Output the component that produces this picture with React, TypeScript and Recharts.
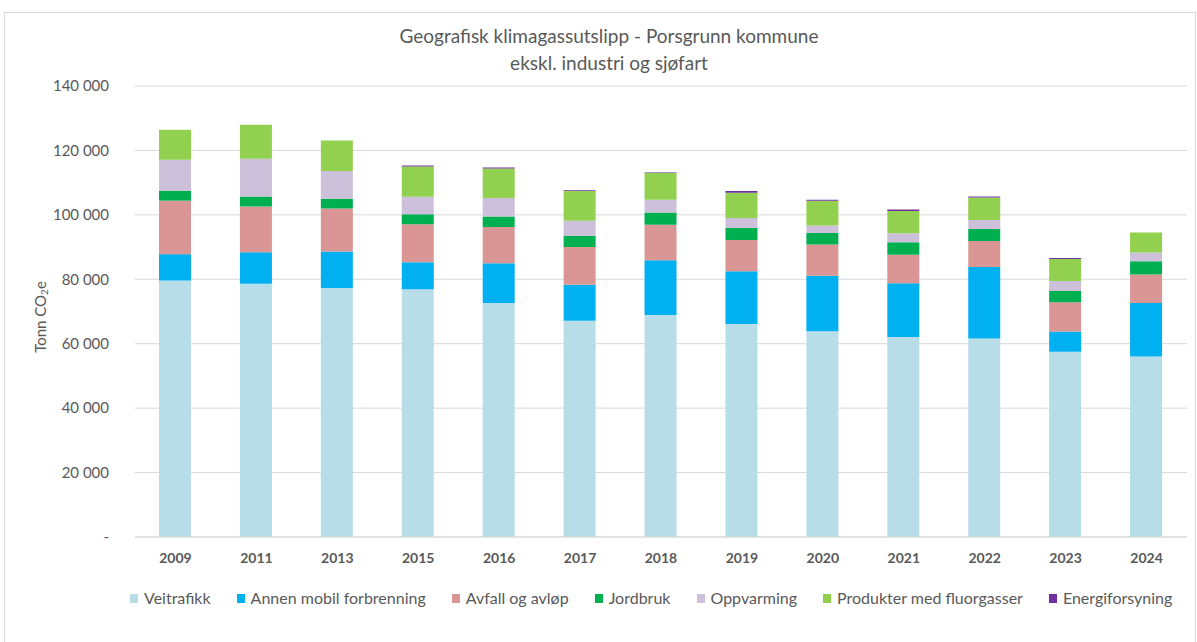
import { BarChart, Bar, XAxis, YAxis, CartesianGrid } from 'recharts';

const years = ['2009', '2011', '2013', '2015', '2016', '2017', '2018', '2019', '2020', '2021', '2022', '2023', '2024'];

// tonn CO2e, lest av figuren
const veitrafikk = [79600, 78600, 77300, 76900, 72600, 67100, 68900, 66100, 63900, 62100, 61600, 57500, 56000];
const annenMobil = [8200, 9800, 11300, 8400, 12400, 11200, 17000, 16400, 17200, 16700, 22200, 6300, 16600];
const avfall = [16600, 14200, 13400, 11800, 11200, 11700, 11000, 9700, 9700, 8800, 8100, 9100, 8900];
const jordbruk = [3100, 3100, 3000, 3100, 3300, 3500, 3800, 3700, 3600, 3900, 3700, 3500, 4100];
const oppvarming = [9600, 11700, 8600, 5400, 5700, 4700, 4000, 3100, 2300, 2800, 2800, 3100, 2700];
const fluorgasser = [9300, 10600, 9500, 9400, 9200, 9200, 8400, 7900, 7700, 6900, 7000, 6800, 6200];
const energiforsyning = [0, 0, 0, 300, 300, 200, 100, 500, 300, 500, 300, 300, 0];

const yTicks = [0, 20000, 40000, 60000, 80000, 100000, 120000, 140000];

const series = [
  { key: 'veitrafikk', name: 'Veitrafikk', color: '#B7DDE8', values: veitrafikk },
  { key: 'annenMobil', name: 'Annen mobil forbrenning', color: '#00B0F0', values: annenMobil },
  { key: 'avfall', name: 'Avfall og avløp', color: '#DA9694', values: avfall },
  { key: 'jordbruk', name: 'Jordbruk', color: '#00B050', values: jordbruk },
  { key: 'oppvarming', name: 'Oppvarming', color: '#CCC0DA', values: oppvarming },
  { key: 'fluorgasser', name: 'Produkter med fluorgasser', color: '#92D050', values: fluorgasser },
  { key: 'energiforsyning', name: 'Energiforsyning', color: '#7030A0', values: energiforsyning },
];

const data = years.map((year, i) => {
  const row: Record<string, string | number> = { year };
  series.forEach((s) => {
    row[s.key] = s.values[i];
  });
  return row;
});

const FONT = 'Lato, "Open Sans", sans-serif';

const formatTick = (v: number) => (v === 0 ? '-' : String(v).replace(/\B(?=(\d{3})+(?!\d))/g, ' '));

function YLabel() {
  return (
    <text
      x={40}
      y={317}
      transform="rotate(-90 40 317)"
      textAnchor="middle"
      dominantBaseline="central"
      fill="#595959"
      fontSize={15}
      fontFamily={FONT}
    >
      Tonn CO<tspan fontSize={10} dy={4}>2</tspan>
      <tspan dy={-4}>e</tspan>
    </text>
  );
}

export default function App() {
  return (
    <div style={{ position: 'absolute', left: 0, top: 0, width: 1197, height: 642, background: '#fff' }}>
      <div
        style={{
          position: 'absolute',
          left: 4,
          top: 12,
          width: 1192,
          height: 640,
          border: '1px solid #D9D9D9',
          boxSizing: 'border-box',
        }}
      />
      <div
        style={{
          position: 'absolute',
          left: 0,
          top: 22,
          width: 1218,
          textAlign: 'center',
          fontFamily: FONT,
          fontSize: 19,
          lineHeight: '27px',
          color: '#595959',
        }}
      >
        Geografisk klimagassutslipp - Porsgrunn kommune
        <br />
        ekskl. industri og sjøfart
      </div>
      <BarChart
        width={1197}
        height={642}
        data={data}
        barSize={32}
        margin={{ top: 86, right: 10, bottom: 75, left: 0 }}
        style={{ position: 'absolute', left: 0, top: 0 }}
      >
        <CartesianGrid vertical={false} stroke="#D9D9D9" />
        <XAxis
          dataKey="year"
          height={30}
          tickLine={false}
          axisLine={{ stroke: '#D9D9D9' }}
          tick={{ fontSize: 14, fontWeight: 700, fill: '#595959', fontFamily: FONT }}
          tickMargin={10}
        />
        <YAxis
          width={135}
          domain={[0, 140000]}
          ticks={yTicks}
          tickFormatter={formatTick}
          tickLine={false}
          axisLine={false}
          tick={{ fontSize: 15, fill: '#595959', fontFamily: FONT }}
          tickMargin={20}
          label={<YLabel />}
        />
        {series.map((s) => (
          <Bar key={s.key} dataKey={s.key} name={s.name} stackId="a" fill={s.color} isAnimationActive={false} />
        ))}
      </BarChart>
      <div
        style={{
          position: 'absolute',
          left: 130,
          top: 588,
          display: 'flex',
          gap: 26,
          fontFamily: FONT,
          fontSize: 16,
          lineHeight: '20px',
          color: '#595959',
          whiteSpace: 'nowrap',
        }}
      >
        {series.map((s) => (
          <div key={s.key} style={{ display: 'flex', alignItems: 'center' }}>
            <span style={{ width: 8, height: 9, background: s.color, marginRight: 6, display: 'inline-block' }} />
            {s.name}
          </div>
        ))}
      </div>
    </div>
  );
}
